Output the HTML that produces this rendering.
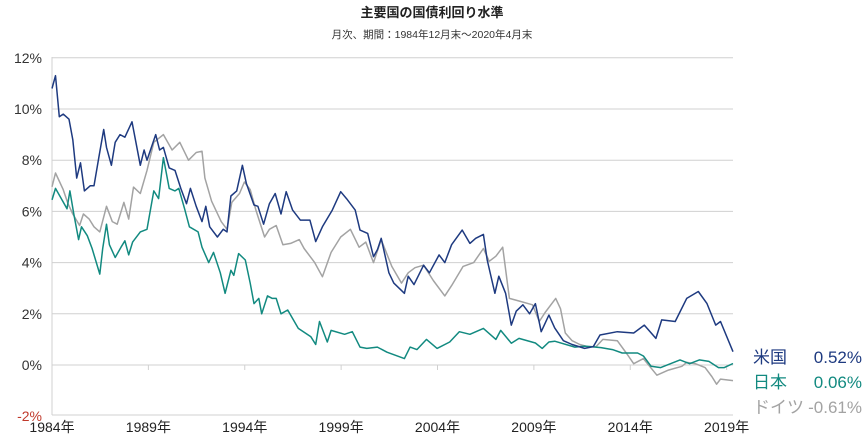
<!DOCTYPE html>
<html><head><meta charset="utf-8">
<style>
body{margin:0;background:#fff;}
svg{display:block;font-family:"Liberation Sans","Noto Sans CJK JP",sans-serif;}
</style></head>
<body>
<svg id="chart" width="864" height="443" viewBox="0 0 864 443">
<text x="432" y="17" text-anchor="middle" font-size="13" font-weight="bold" fill="#222">主要国の国債利回り水準</text>
<text x="432" y="38" text-anchor="middle" font-size="10.5" fill="#333">月次、期間：1984年12月末～2020年4月末</text>
<g id="grid"></g><g id="series"></g><g id="legend"></g>
</svg>
<script>
const yTicks=[12,10,8,6,4,2,0,-2];
const yTickLabels=["12%","10%","8%","6%","4%","2%","0%","-2%"];
const xTicks=[1984,1989,1994,1999,2004,2009,2014,2019];
const xTickLabels=["1984年","1989年","1994年","1999年","2004年","2009年","2014年","2019年"];
const usT=[1984.92,1985.1,1985.3,1985.5,1985.8,1986.0,1986.2,1986.4,1986.6,1986.9,1987.1,1987.35,1987.6,1987.75,1988.0,1988.2,1988.45,1988.7,1989.07,1989.5,1989.7,1989.85,1990.3,1990.5,1990.7,1991.0,1991.3,1991.6,1991.9,1992.1,1992.4,1992.7,1992.9,1993.1,1993.5,1993.8,1994.0,1994.2,1994.5,1994.8,1995.0,1995.4,1995.6,1995.9,1996.2,1996.5,1996.8,1997.07,1997.4,1997.8,1998.3,1998.6,1998.95,1999.46,1999.9,2000.2,2000.65,2000.9,2001.3,2001.6,2001.8,2002.0,2002.4,2002.65,2003.2,2003.4,2003.7,2004.2,2004.5,2005.0,2005.3,2005.65,2006.2,2006.6,2006.9,2007.3,2007.5,2007.9,2008.1,2008.45,2008.75,2009.0,2009.35,2009.7,2010.0,2010.3,2010.7,2011.0,2011.45,2011.9,2012.55,2013.0,2013.35,2014.25,2015.1,2015.65,2016.25,2016.55,2017.25,2017.85,2018.45,2018.9,2019.35,2019.6,2020.25];
const usV=[10.8,11.3,9.7,9.8,9.6,8.8,7.3,7.9,6.8,7.0,7.0,8.1,9.2,8.5,7.8,8.7,9.0,8.9,9.5,7.8,8.4,8.0,9.0,8.4,8.5,7.7,7.6,6.9,6.3,6.9,6.2,5.6,6.2,5.4,5.0,5.3,5.2,6.6,6.8,7.8,7.1,6.25,6.2,5.5,6.3,6.7,5.9,6.77,6.05,5.66,5.66,4.82,5.4,6.05,6.77,6.5,6.05,5.27,5.14,4.23,4.5,4.95,3.6,3.2,2.8,3.47,3.14,3.9,3.6,4.3,4.0,4.7,5.27,4.75,4.95,5.1,4.1,2.8,3.47,2.8,1.56,2.1,2.35,2.0,2.4,1.3,1.95,1.45,0.95,0.8,0.65,0.72,1.17,1.3,1.25,1.56,1.04,1.76,1.7,2.6,2.87,2.4,1.56,1.7,0.52];
const jpT=[1984.92,1985.1,1985.4,1985.7,1985.85,1986.05,1986.3,1986.45,1986.75,1987.0,1987.4,1987.55,1987.75,1987.9,1988.2,1988.5,1988.7,1988.9,1989.1,1989.5,1989.85,1990.2,1990.45,1990.7,1991.0,1991.3,1991.5,1991.8,1992.05,1992.5,1992.7,1993.05,1993.3,1993.65,1993.9,1994.2,1994.35,1994.6,1994.95,1995.2,1995.4,1995.65,1995.8,1996.1,1996.35,1996.55,1996.8,1997.15,1997.7,1998.35,1998.6,1998.8,1999.2,1999.4,2000.1,2000.5,2000.9,2001.25,2001.8,2002.3,2003.2,2003.5,2003.85,2004.35,2004.9,2005.55,2006.05,2006.6,2007.3,2007.95,2008.2,2008.75,2009.15,2010.0,2010.35,2010.7,2011.0,2012.05,2012.55,2013.4,2014.0,2014.5,2015.3,2015.6,2016.0,2016.5,2017.5,2018.0,2018.5,2019.0,2019.5,2019.8,2020.25];
const jpV=[6.45,6.9,6.5,6.1,6.8,5.9,4.9,5.4,5.05,4.55,3.55,4.55,5.5,4.7,4.2,4.6,4.85,4.3,4.8,5.2,5.3,6.8,6.5,8.1,6.9,6.8,6.9,6.1,5.4,5.2,4.6,4.0,4.4,3.6,2.8,3.7,3.5,4.35,4.1,3.2,2.4,2.6,2.0,2.7,2.6,2.6,2.0,2.15,1.43,1.1,0.8,1.7,0.9,1.35,1.2,1.3,0.7,0.65,0.7,0.5,0.25,0.7,0.6,1.0,0.65,0.9,1.3,1.2,1.43,1.0,1.35,0.85,1.04,0.86,0.65,0.9,0.93,0.7,0.74,0.68,0.6,0.47,0.47,0.35,-0.05,-0.1,0.2,0.05,0.2,0.14,-0.1,-0.1,0.06];
const deT=[1984.92,1985.1,1985.5,1985.75,1986.0,1986.35,1986.55,1986.85,1987.1,1987.4,1987.75,1988.05,1988.3,1988.65,1988.9,1989.15,1989.5,1989.85,1990.2,1990.45,1990.7,1991.15,1991.55,1992.0,1992.4,1992.7,1992.85,1993.2,1993.7,1994.0,1994.25,1994.65,1994.9,1995.2,1995.5,1995.95,1996.2,1996.55,1996.9,1997.3,1997.75,1998.0,1998.55,1998.95,1999.4,1999.9,2000.4,2000.85,2001.2,2001.6,2002.0,2002.55,2003.05,2003.4,2003.75,2004.2,2004.7,2005.3,2005.65,2006.25,2006.8,2007.3,2007.6,2007.95,2008.3,2008.65,2009.15,2009.85,2010.2,2010.5,2011.05,2011.3,2011.55,2011.9,2012.3,2012.7,2013.15,2013.5,2014.25,2014.75,2015.1,2015.6,2016.3,2016.9,2017.6,2017.85,2018.3,2018.8,2019.15,2019.4,2019.6,2020.25];
const deV=[6.96,7.5,6.85,6.3,5.9,5.45,5.9,5.7,5.4,5.2,6.2,5.6,5.5,6.35,5.7,6.95,6.7,7.6,8.7,8.85,9.0,8.4,8.7,8.0,8.3,8.35,7.3,6.4,5.6,5.3,6.35,6.7,7.15,6.85,6.05,5.0,5.3,5.45,4.7,4.75,4.9,4.55,4.0,3.45,4.4,5.0,5.3,4.6,4.8,4.0,4.9,3.85,3.2,3.6,3.8,3.9,3.3,2.7,3.1,3.85,4.0,4.55,4.05,4.25,4.6,2.6,2.5,2.35,1.7,2.05,2.6,2.2,1.25,0.95,0.8,0.72,0.72,1.0,0.95,0.43,0.05,0.25,-0.4,-0.2,-0.05,0.1,0.05,-0.1,-0.45,-0.75,-0.55,-0.61];
const legendNames=["米国","日本","ドイツ"];
const legendValues=["0.52%","0.06%","-0.61%"];

const X0=52,X1=733,T0=1984.92,T1=2020.25,Y0=365,PX=25.6;
const xs=t=>X0+(t-T0)*(X1-X0)/(T1-T0);
const ys=v=>Y0-v*PX;
const NS="http://www.w3.org/2000/svg";
function mk(tag,attrs,parent){const e=document.createElementNS(NS,tag);for(const k in attrs)e.setAttribute(k,attrs[k]);parent.appendChild(e);return e;}
const grid=document.getElementById('grid'),series=document.getElementById('series'),legend=document.getElementById('legend');
yTicks.forEach((v,i)=>{
  if(v>-2){const l=mk('line',{x1:X0,x2:X1,y1:ys(v),y2:ys(v),stroke:'#d0d0d0','stroke-width':1},grid);
  
  }
  const t=mk('text',{x:42,y:ys(v)+5,'text-anchor':'end','font-size':14,fill:v<0?'#c0392b':'#333'},grid);
  t.textContent=yTickLabels[i];
  
  
});
const bl=mk('line',{x1:X0,x2:X1,y1:415,y2:415,stroke:'#d0d0d0'},grid);


const al=mk('line',{x1:X0,x2:X0,y1:57,y2:415,stroke:'#d0d0d0'},grid);


xTicks.forEach((yr,i)=>{
  const x=xs(yr+0.92);
  const tk=mk('line',{x1:x,x2:x,y1:Y0,y2:Y0+5,stroke:'#d0d0d0'},grid);
  
  
  const t=mk('text',{x:x,y:432,'text-anchor':'middle','font-size':14,fill:'#222'},grid);
  t.textContent=xTickLabels[i];
  
  
});
const sets=[[deT,deV,'#a3a3a3','germany-line'],[jpT,jpV,'#128a80','japan-line'],[usT,usV,'#1e3a80','us-line']];
sets.forEach(s=>{
  const d=s[0].map((t,i)=>(i?'L':'M')+xs(t).toFixed(1)+','+ys(s[1][i]).toFixed(1)).join('');
  const p=mk('path',{d:d,fill:'none',stroke:s[2],'stroke-width':1.5,'stroke-linejoin':'round'},series);
  
  
});
const lc=['#1e3a80','#128a80','#a3a3a3'];
legendNames.forEach((n,i)=>{
  const y=363+i*25;
  const a=mk('text',{x:753,y:y,'font-size':17,fill:lc[i]},legend);
  a.textContent=n;
  
  
  const b=mk('text',{x:862,y:y,'font-size':17,fill:lc[i],'text-anchor':'end'},legend);
  b.textContent=legendValues[i];
  
  
});
</script>
</body></html>
